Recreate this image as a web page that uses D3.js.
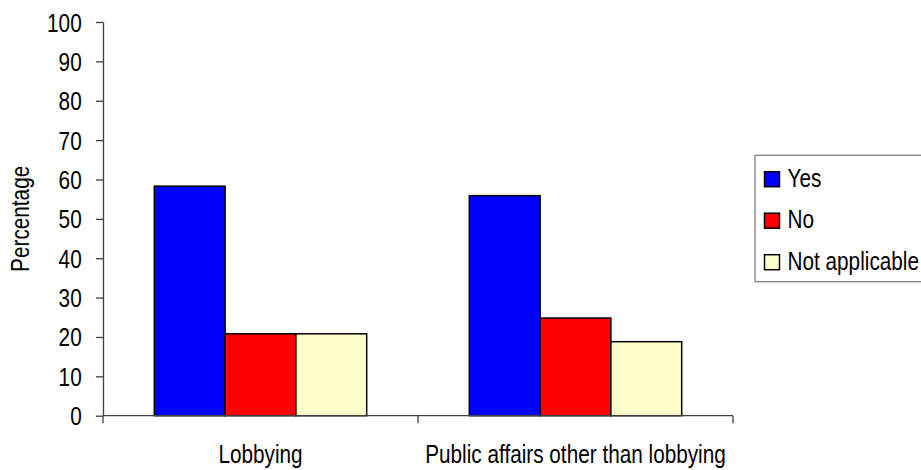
<!DOCTYPE html>
<html>
<head>
<meta charset="utf-8">
<script src="https://cdn.jsdelivr.net/npm/d3@7"></script>
<style>
  html, body { margin: 0; padding: 0; background: #fff; }
  svg { display: block; font-family: "Liberation Sans", Arial, sans-serif; }
</style>
</head>
<body>
<div id="chart"></div>
<script>
// data
const categories = ["Lobbying", "Public affairs other than lobbying"];
const series = ["Yes", "No", "Not applicable"];
const yesValues = [58.3, 55.9];
const noValues = [20.8, 24.8];
const naValues = [20.8, 18.8];
const colors = ["#0000ff", "#ff0000", "#ffffcc"];
const yTicks = [0, 10, 20, 30, 40, 50, 60, 70, 80, 90, 100];

const valuesBySeries = [yesValues, noValues, naValues];

const width = 921, height = 470;
const fontSize = 25, squeeze = 0.83;   // narrow-looking type

const svg = d3.select("#chart").append("svg")
    .attr("width", width)
    .attr("height", height);

// ---------------------------------------------------------
// SCALES
// ---------------------------------------------------------
const x0 = d3.scaleBand()
    .domain(categories)
    .range([103, 733])
    .padding(0);

const x1 = d3.scaleBand()
    .domain(series)
    .range([0, x0.bandwidth()])
    .paddingInner(0)
    .paddingOuter(0.725);

const y = d3.scaleLinear()
    .domain([0, 100])
    .range([415.7, 22]);

// ---------------------------------------------------------
// BARS
// ---------------------------------------------------------
const groups = svg.append("g").selectAll("g")
  .data(categories)
  .enter().append("g")
    .attr("transform", d => `translate(${x0(d)},0)`);

groups.selectAll("rect")
  .data((c, ci) => series.map((s, si) => ({ s, si, v: valuesBySeries[si][ci] })))
  .enter().append("rect")
    .attr("x", d => x1(d.s))
    .attr("y", d => y(d.v))
    .attr("width", x1.bandwidth())
    .attr("height", d => y(0) - y(d.v))
    .attr("fill", d => colors[d.si])
    .attr("stroke", "#000")
    .attr("stroke-width", 1.5);

// ---------------------------------------------------------
// Y AXIS
// ---------------------------------------------------------
const yAxis = svg.append("g")
    .attr("transform", `translate(${x0.range()[0]},0)`)
    .call(d3.axisLeft(y).tickValues(yTicks).tickSizeInner(7).tickSizeOuter(0).tickPadding(0));

yAxis.select(".domain").attr("stroke", "#404040").attr("stroke-width", 1.3);
yAxis.selectAll(".tick line").attr("stroke", "#404040").attr("stroke-width", 1.3);
yAxis.selectAll(".tick text")
    .attr("x", -21.3 / squeeze)
    .attr("dy", "0.36em")
    .attr("transform", `scale(${squeeze},1)`)
    .style("font-size", fontSize + "px")
    .style("font-family", "'Liberation Sans', Arial, sans-serif")
    .attr("fill", "#000");

// y label
svg.append("text")
    .attr("transform", `translate(29,${(y(0) + y(100)) / 2}) rotate(-90) scale(${squeeze},1)`)
    .attr("text-anchor", "middle")
    .style("font-size", fontSize + "px")
    .text("Percentage");

// ---------------------------------------------------------
// X AXIS (ticks on category boundaries)
// ---------------------------------------------------------
const xAxis = svg.append("g");
xAxis.append("line")
    .attr("x1", x0.range()[0]).attr("x2", x0.range()[1])
    .attr("y1", y(0)).attr("y2", y(0))
    .attr("stroke", "#404040").attr("stroke-width", 1.3);

const bounds = categories.map(c => x0(c)).concat([x0.range()[1]]);
xAxis.selectAll("line.tick")
  .data(bounds)
  .enter().append("line")
    .attr("class", "tick")
    .attr("x1", d => d).attr("x2", d => d)
    .attr("y1", y(0)).attr("y2", y(0) + 7.5)
    .attr("stroke", "#404040").attr("stroke-width", 1.3);

xAxis.selectAll("text")
  .data(categories)
  .enter().append("text")
    .attr("transform", d => `translate(${x0(d) + x0.bandwidth() / 2},463.3) scale(${squeeze},1)`)
    .attr("text-anchor", "middle")
    .style("font-size", fontSize + "px")
    .text(d => d);

// ---------------------------------------------------------
// LEGEND
// ---------------------------------------------------------
const legend = svg.append("g");
legend.append("rect")
    .attr("x", 755).attr("y", 155.3)
    .attr("width", 190).attr("height", 126.4)
    .attr("fill", "#fff")
    .attr("stroke", "#808080")
    .attr("stroke-width", 1.3);

const items = legend.selectAll("g.item")
  .data(series)
  .enter().append("g")
    .attr("class", "item")
    .attr("transform", (d, i) => `translate(764.5,${171.7 + i * 41.5})`);

items.append("rect")
    .attr("width", 15).attr("height", 15)
    .attr("fill", (d, i) => colors[i])
    .attr("stroke", "#000")
    .attr("stroke-width", 1.5);

items.append("text")
    .attr("transform", `translate(23,15.2) scale(${squeeze},1)`)
    .style("font-size", fontSize + "px")
    .text(d => d);
</script>
</body>
</html>
